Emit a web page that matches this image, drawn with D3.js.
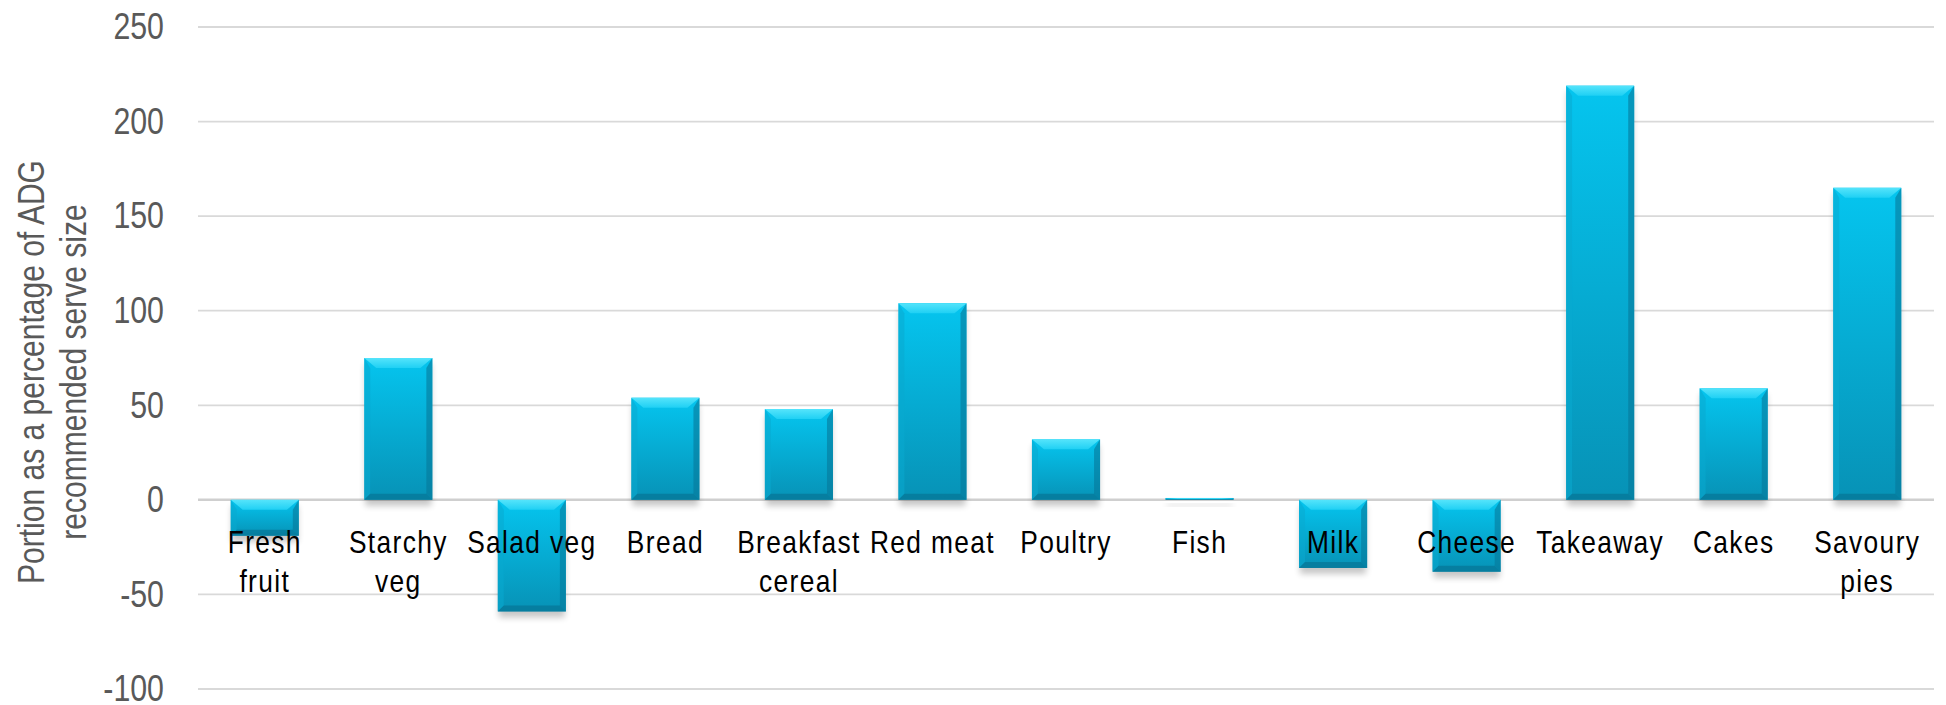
<!DOCTYPE html>
<html>
<head>
<meta charset="utf-8">
<script src="https://cdn.jsdelivr.net/npm/d3@7"></script>
<style>
  html, body { margin: 0; padding: 0; background: #ffffff; }
  svg { display: block; }
  text { font-family: "Liberation Sans", Arial, sans-serif; }
</style>
</head>
<body>
<svg id="chart" width="1946" height="705"></svg>
<script>
// Food groups and their portion size relative to the ADG recommended serve (%)
const categories = ["Fresh fruit", "Starchy veg", "Salad veg", "Bread", "Breakfast cereal",
  "Red meat", "Poultry", "Fish", "Milk", "Cheese", "Takeaway", "Cakes", "Savoury pies"];
const categoryLabels = ["Fresh\nfruit", "Starchy\nveg", "Salad veg", "Bread", "Breakfast\ncereal",
  "Red meat", "Poultry", "Fish", "Milk", "Cheese", "Takeaway", "Cakes", "Savoury\npies"];
const values = [-19, 75, -59, 54, 48, 104, 32, 1, -36, -38, 219, 59, 165];
const yTicks = [-100, -50, 0, 50, 100, 150, 200, 250];
const yTickLabels = ["-100", "-50", "0", "50", "100", "150", "200", "250"];
const yTitleLines = ["Portion as a percentage of ADG", "recommended serve size"];

const plot = { left: 198, right: 1934, top: 27, bottom: 689 };

const svg = d3.select("#chart");

const x = d3.scaleBand()
  .domain(categories)
  .range([plot.left, plot.right])
  .paddingInner(0.49)
  .paddingOuter(0.245);

const y = d3.scaleLinear()
  .domain([d3.min(yTicks), d3.max(yTicks)])
  .range([plot.bottom, plot.top]);

// ---- defs: gradients and shadow ----
const defs = svg.append("defs");

const body = defs.append("linearGradient")
  .attr("id", "barBody").attr("x1", 0).attr("y1", 0).attr("x2", 0).attr("y2", 1);
body.append("stop").attr("offset", "0%").attr("stop-color", "#05c5ef");
body.append("stop").attr("offset", "100%").attr("stop-color", "#0792b6");

const topBevel = defs.append("linearGradient")
  .attr("id", "bevelTop").attr("x1", 0).attr("y1", 0).attr("x2", 0).attr("y2", 1);
topBevel.append("stop").attr("offset", "0%").attr("stop-color", "#55e4fb");
topBevel.append("stop").attr("offset", "100%").attr("stop-color", "#1fd0f4");

const shadow = defs.append("filter")
  .attr("id", "barShadow").attr("x", "-20%").attr("y", "-20%").attr("width", "140%").attr("height", "140%");
shadow.append("feGaussianBlur").attr("stdDeviation", 3);

// ---- gridlines ----
svg.append("g").attr("class", "grid")
  .selectAll("line")
  .data(yTicks)
  .join("line")
  .attr("x1", plot.left)
  .attr("x2", plot.right)
  .attr("y1", d => y(d))
  .attr("y2", d => y(d))
  .attr("stroke", d => d === 0 ? "#cfcfcf" : "#d9d9d9")
  .attr("stroke-width", d => d === 0 ? 2.5 : 1.8);

// ---- y axis labels (condensed, right-aligned) ----
const yAxis = d3.axisLeft(y)
  .tickValues(yTicks)
  .tickFormat((d, i) => yTickLabels[i])
  .tickSize(0)
  .tickPadding(0);
const yAxisG = svg.append("g")
  .attr("transform", `translate(164,0)`)
  .call(yAxis);
yAxisG.select(".domain").remove();
yAxisG.selectAll(".tick text")
  .attr("x", 0)
  .attr("transform", "scale(0.82,1)")
  .attr("fill", "#595959")
  .style("font-family", "'Liberation Sans', Arial, sans-serif")
  .style("font-size", "37px");

// ---- y axis title (condensed) ----
const titleG = svg.append("g")
  .attr("transform", "translate(44,372) rotate(-90)");
const titleText = titleG.selectAll("text")
  .data(yTitleLines)
  .join("text")
  .attr("x", 0)
  .attr("y", (d, i) => i * 42)
  .attr("text-anchor", "middle")
  .attr("fill", "#595959")
  .style("font-size", "37px")
  .text(d => d);
const titleLen = titleText.node().getComputedTextLength();
const titleScale = 424 / titleLen;
titleText.attr("transform", `scale(${titleScale},1)`);

// ---- bars ----
const bars = svg.append("g").attr("class", "bars")
  .selectAll("g")
  .data(categories.map((c, i) => ({ c, v: values[i] })))
  .join("g");

function geom(d) {
  const x0 = x(d.c), w = x.bandwidth();
  const yTop = y(Math.max(0, d.v)), yBot = y(Math.min(0, d.v));
  const h = Math.max(1.5, yBot - yTop);
  const b = Math.min(10, h / 2, w / 2);
  return { x0, w, yTop, h, b };
}

bars.append("rect")
  .attr("x", d => geom(d).x0 + 1)
  .attr("y", d => geom(d).yTop + 6)
  .attr("width", d => geom(d).w - 2)
  .attr("height", d => geom(d).h)
  .attr("fill", "#000")
  .attr("opacity", 0.22)
  .attr("filter", "url(#barShadow)");

bars.append("rect")
  .attr("x", d => geom(d).x0)
  .attr("y", d => geom(d).yTop)
  .attr("width", d => geom(d).w)
  .attr("height", d => geom(d).h)
  .attr("fill", "url(#barBody)");

// left edge
bars.append("path")
  .attr("d", d => {
    const g = geom(d), s = Math.min(6, g.b);
    return `M${g.x0},${g.yTop} L${g.x0 + s},${g.yTop + g.b} L${g.x0 + s},${g.yTop + g.h - s} L${g.x0},${g.yTop + g.h} Z`;
  })
  .attr("fill", "#0aa9d0").attr("opacity", 0.55);

// right edge
bars.append("path")
  .attr("d", d => {
    const g = geom(d), s = Math.min(6, g.b), xr = g.x0 + g.w;
    return `M${xr},${g.yTop} L${xr - s},${g.yTop + g.b} L${xr - s},${g.yTop + g.h - s} L${xr},${g.yTop + g.h} Z`;
  })
  .attr("fill", "#06789a").attr("opacity", 0.6);

// bottom edge
bars.append("path")
  .attr("d", d => {
    const g = geom(d), s = Math.min(6, g.b), yb = g.yTop + g.h;
    return `M${g.x0},${yb} L${g.x0 + s},${yb - s} L${g.x0 + g.w - s},${yb - s} L${g.x0 + g.w},${yb} Z`;
  })
  .attr("fill", "#06708f").attr("opacity", 0.6);

// top bevel
bars.append("path")
  .attr("d", d => {
    const g = geom(d), s = Math.min(12, g.w / 2);
    return `M${g.x0},${g.yTop} L${g.x0 + g.w},${g.yTop} L${g.x0 + g.w - s},${g.yTop + g.b} L${g.x0 + s},${g.yTop + g.b} Z`;
  })
  .attr("fill", "url(#bevelTop)");

// ---- category labels (condensed, drawn over the bars) ----
const labelG = svg.append("g").attr("class", "cat-labels");
categories.forEach((c, i) => {
  const cx = x(c) + x.bandwidth() / 2;
  const t = labelG.append("text")
    .attr("transform", `translate(${cx},${y(0) + 53}) scale(0.85,1)`)
    .attr("text-anchor", "middle")
    .attr("fill", "#000")
    .style("font-size", "31px")
    .style("letter-spacing", "1.6px");
  categoryLabels[i].split("\n").forEach((ln, j) => {
    t.append("tspan")
      .attr("x", 0)
      .attr("y", j * 39)
      .text(ln);
  });
});
</script>
</body>
</html>
